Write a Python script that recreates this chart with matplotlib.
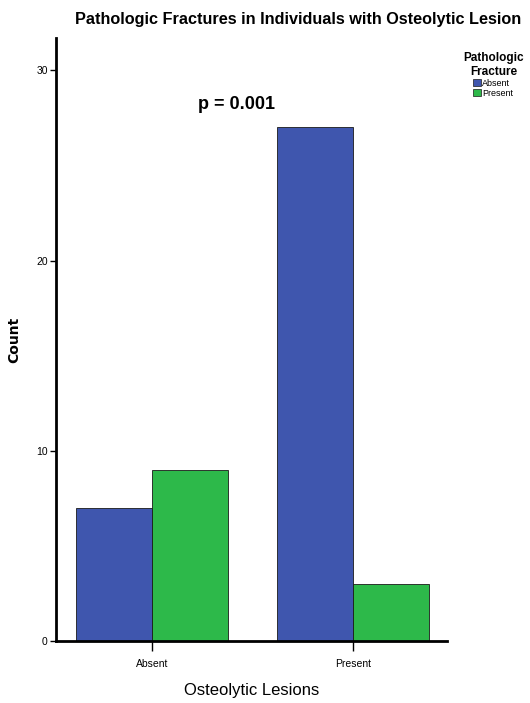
import matplotlib
matplotlib.use("Agg")
import matplotlib.pyplot as plt
import numpy as np
from matplotlib.patches import Patch

FONT = "Liberation Sans"

categories = ["Absent", "Present"]
fracture_levels = ["Absent", "Present"]
absent_counts = [7, 27]
present_counts = [9, 3]
colors = ["#3F56AE", "#2DB94A"]

fig = plt.figure(figsize=(5.30, 7.03), dpi=100)
ax = fig.add_axes([0.1057, 0.0882, 0.7377, 0.8578])
x = np.arange(len(categories))
w = 0.378
ax.bar(x - w/2, absent_counts, w, color=colors[0], edgecolor="#1a1a1a", linewidth=0.6)
ax.bar(x + w/2, present_counts, w, color=colors[1], edgecolor="#1a1a1a", linewidth=0.6)

ax.set_xlim(-0.478, 1.468)
ax.set_ylim(0, 31.7)
ax.set_xticks(x)
ax.set_xticklabels(categories, fontsize=7.5, family=FONT)
ax.set_yticks([0, 10, 20, 30])
ax.set_yticklabels(["0", "10", "20", "30"], fontsize=7.5, family=FONT)
for s in ["top", "right"]:
    ax.spines[s].set_visible(False)
for s in ["left", "bottom"]:
    ax.spines[s].set_linewidth(2)
ax.tick_params(axis="y", length=4, width=1, pad=2)
ax.tick_params(axis="x", length=7, width=1, pad=6)

ax.set_xlabel("Osteolytic Lesions", fontsize=12, family=FONT, labelpad=10)
ax.set_ylabel("Count", fontsize=10, fontweight="bold", family="DejaVu Sans")
ax.yaxis.set_label_coords(-0.09, 0.5)

fig.text(0.563, 0.972, "Pathologic Fractures in Individuals with Osteolytic Lesion",
         ha="center", va="center", fontsize=11.7, fontweight="bold", family=FONT)
fig.text(0.447, 0.851, "p = 0.001", ha="center", va="center", fontsize=13,
         fontweight="bold", family=FONT)

handles = [Patch(facecolor=c, edgecolor="#1a1a1a", linewidth=0.5) for c in colors]
leg = fig.legend(handles, fracture_levels, title="Pathologic\nFracture",
                 loc="upper right", bbox_to_anchor=(1.0, 0.935), frameon=False,
                 prop={"size": 6.5, "family": FONT},
                 title_fontproperties={"size": 8.5, "weight": "bold", "family": FONT},
                 handlelength=0.8, handleheight=0.8, handletextpad=0.2, labelspacing=0.1,
                 borderpad=0.2)
leg.get_title().set_ha("center")

fig.savefig("out.png", dpi=100)
